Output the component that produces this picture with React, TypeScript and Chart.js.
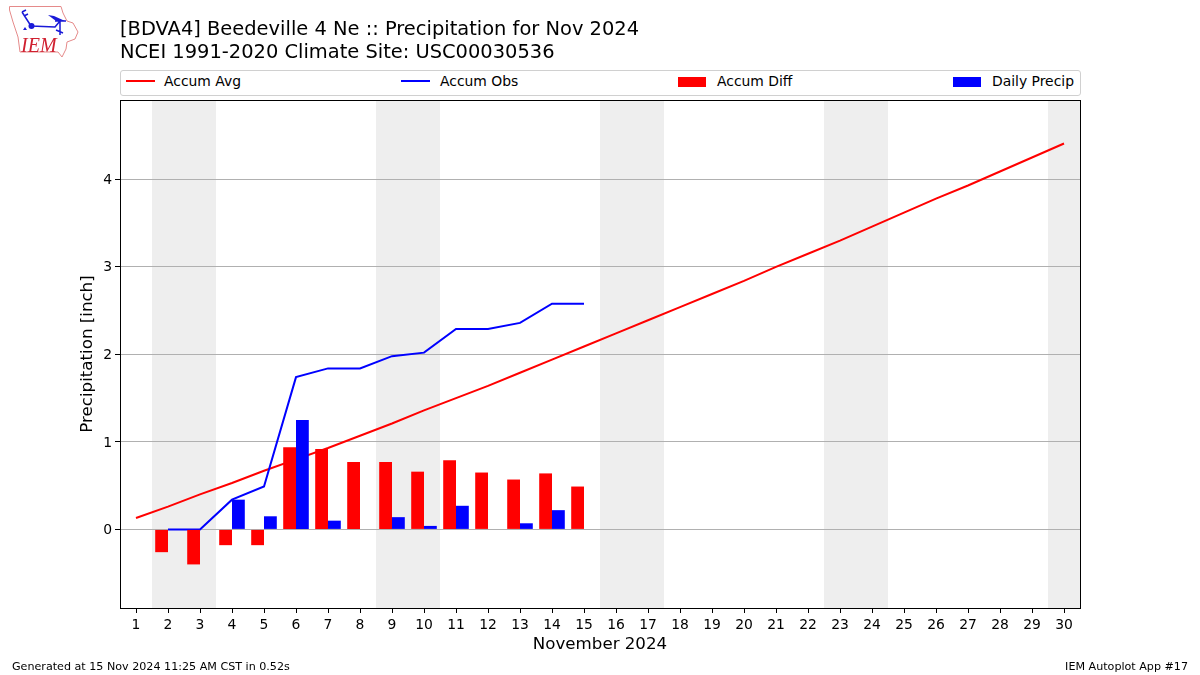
import React, { useEffect, useRef } from "react";
import { Chart, registerables } from "chart.js";

Chart.register(...registerables);

const days = Array.from({ length: 30 }, (_, i) => String(i + 1));
const accumAvg = [0.13, 0.26, 0.40, 0.53, 0.67, 0.80, 0.93, 1.07, 1.21, 1.36, 1.50, 1.64, 1.79, 1.94, 2.09, 2.24, 2.39, 2.54, 2.69, 2.84, 3.00, 3.15, 3.30, 3.46, 3.62, 3.78, 3.93, 4.09, 4.25, 4.41];
const accumObs = [null, 0, 0, 0.34, 0.49, 1.74, 1.84, 1.84, 1.98, 2.02, 2.29, 2.29, 2.36, 2.58, 2.58];
const accumDiff = [null, -0.26, -0.40, -0.18, -0.18, 0.94, 0.92, 0.77, 0.77, 0.66, 0.79, 0.65, 0.57, 0.64, 0.49];
const dailyPrecip = [null, 0, 0, 0.34, 0.15, 1.25, 0.10, 0, 0.14, 0.04, 0.27, 0, 0.07, 0.22, 0];
const weekendBands = [[2, 3], [9, 10], [16, 17], [23, 24], [30, 30]];
const yTicks = [0, 1, 2, 3, 4];
const titleLines = ["[BDVA4] Beedeville 4 Ne :: Precipitation for Nov 2024", "NCEI 1991-2020 Climate Site: USC00030536"];
const xTitle = "November 2024";
const yTitle = "Precipitation [inch]";
const footLeft = "Generated at 15 Nov 2024 11:25 AM CST in 0.52s";
const footRight = "IEM Autoplot App #17";
const FONT = "'DejaVu Sans', sans-serif";

const framePlugin = {
  id: "frame",
  beforeDraw(chart: any) {
    const { ctx, chartArea: a, scales } = chart;
    const x = scales.x;
    ctx.save();
    ctx.fillStyle = "#eeeeee";
    const step = x.width / days.length;
    for (const [s, e] of weekendBands) {
      const l = x.getPixelForValue(s - 1) - step / 2;
      const r = Math.min(x.getPixelForValue(e - 1) + step / 2, a.right);
      ctx.fillRect(l, a.top, r - l, a.bottom - a.top);
    }
    ctx.restore();
  },
  afterDraw(chart: any) {
    const { ctx, chartArea: a } = chart;
    ctx.save();
    ctx.strokeStyle = "#000";
    ctx.lineWidth = 1;
    ctx.strokeRect(a.left + 0.5, a.top + 0.5, a.right - a.left, a.bottom - a.top);
    ctx.restore();
  },
};

const abs = (o: any): React.CSSProperties => ({ position: "absolute", fontFamily: FONT, color: "#000", whiteSpace: "nowrap", ...o });

function LegendLine({ x, color, label, tx }: any) {
  return (
    <>
      <div style={abs({ left: x, top: 80, width: 29, height: 2, background: color })} />
      <div style={abs({ left: tx, top: 73, fontSize: 13.9, lineHeight: "17px" })}>{label}</div>
    </>
  );
}
function LegendBox({ x, color, label, tx }: any) {
  return (
    <>
      <div style={abs({ left: x, top: 77, width: 28, height: 9.5, background: color })} />
      <div style={abs({ left: tx, top: 73, fontSize: 13.9, lineHeight: "17px" })}>{label}</div>
    </>
  );
}

export default function App() {
  const ref = useRef<HTMLCanvasElement>(null);
  useEffect(() => {
    document.body.style.margin = "0";
    const chart = new Chart(ref.current!, {
      type: "bar",
      plugins: [framePlugin],
      data: {
        labels: days,
        datasets: [
          { type: "line", label: "Accum Avg", data: accumAvg, borderColor: "#ff0000", borderWidth: 2, pointRadius: 0, order: 3, tension: 0 },
          { type: "line", label: "Accum Obs", data: accumObs, borderColor: "#0000ff", borderWidth: 2, pointRadius: 0, order: 2, tension: 0 },
          { type: "bar", label: "Accum Diff", data: accumDiff, backgroundColor: "#ff0000", order: 1, categoryPercentage: 0.8, barPercentage: 1 },
          { type: "bar", label: "Daily Precip", data: dailyPrecip, backgroundColor: "#0000ff", order: 1, categoryPercentage: 0.8, barPercentage: 1 },
        ] as any,
      },
      options: {
        responsive: false,
        animation: false,
        layout: { padding: { top: 100, right: 120, bottom: 20, left: 78 } },
        plugins: { legend: { display: false }, title: { display: false }, tooltip: { enabled: false } },
        scales: {
          x: {
            type: "category",
            offset: true,
            grid: { drawOnChartArea: false, offset: false, tickColor: "#000", tickLength: 5 },
            border: { display: false },
            ticks: { color: "#000", font: { family: FONT, size: 13.9 }, maxRotation: 0, autoSkip: false, padding: 4 },
            title: { display: true, text: xTitle, color: "#000", font: { family: FONT, size: 16.67 }, padding: { top: 2, bottom: 0 } },
            afterFit(s: any) { s.height = 47; },
          },
          y: {
            type: "linear",
            min: -0.898,
            max: 4.907,
            afterBuildTicks(s: any) { s.ticks = yTicks.map((value) => ({ value })); },
            grid: { color: "#b0b0b0", tickColor: "#000", tickLength: 5 },
            border: { display: false },
            ticks: { color: "#000", font: { family: FONT, size: 13.9 }, padding: 3, labelOffset: 1, callback: (v: any) => String(v) },
            title: { display: true, text: yTitle, color: "#000", font: { family: FONT, size: 16.67 }, padding: 0 },
            afterFit(s: any) { s.width = 42; },
          },
        },
      } as any,
    });
    return () => chart.destroy();
  }, []);

  return (
    <div style={{ position: "relative", width: 1200, height: 675, background: "#fff", overflow: "hidden" }}>
      <canvas ref={ref} width={1200} height={675} style={{ position: "absolute", left: 0, top: 0, display: "block" }} />
      <svg width={90} height={62} style={{ position: "absolute", left: 0, top: 0 }}>
        <path d="M9.5 6.5 L61 6.5 L63 13 L67 21 L73 23 L78 32 L75 39 L67 42 L66 49 L62 57 L58 52 L20 52 L18 37 L13 22 L9.5 10 Z" fill="none" stroke="#e58a8a" strokeWidth={1} />
        <path d="M31 26 L55 27 L60 21 M55 21 L66 21 M60 21 L60 35 M56 30 L63 33 M22 12 L31 26 M22 12 L26 10 M24 16 L28 14" stroke="#1a1ad8" strokeWidth={1.5} fill="none" />
        <path d="M48 15 L54 16 L65 21 L56 21 Z" fill="#1a1ad8" />
        <circle cx={31.5} cy={26} r={3} fill="#1a1ad8" />
        <path d="M23 30 L25 27 L27 30 Z" fill="#1a1ad8" />
        <text x={21} y={52} fontFamily="'Liberation Serif', serif" fontStyle="italic" fontSize={20} fill="#d02030">IEM</text>
      </svg>
      <div style={abs({ left: 120, top: 18, fontSize: 19.44, lineHeight: "22px" })}>{titleLines[0]}</div>
      <div style={abs({ left: 120, top: 41, fontSize: 19.44, lineHeight: "22px" })}>{titleLines[1]}</div>
      <div style={abs({ left: 120, top: 70, width: 961, height: 26, boxSizing: "border-box", border: "1px solid #d0d0d0", borderRadius: 3, background: "#fff" })} />
      <LegendLine x={126} color="#ff0000" label="Accum Avg" tx={164} />
      <LegendLine x={401} color="#0000ff" label="Accum Obs" tx={440} />
      <LegendBox x={678} color="#ff0000" label="Accum Diff" tx={717} />
      <LegendBox x={953} color="#0000ff" label="Daily Precip" tx={992} />
      <div style={abs({ left: 12, top: 660, fontSize: 11.14, lineHeight: "14px" })}>{footLeft}</div>
      <div style={abs({ right: 12, top: 660, fontSize: 11.14, lineHeight: "14px" })}>{footRight}</div>
    </div>
  );
}
